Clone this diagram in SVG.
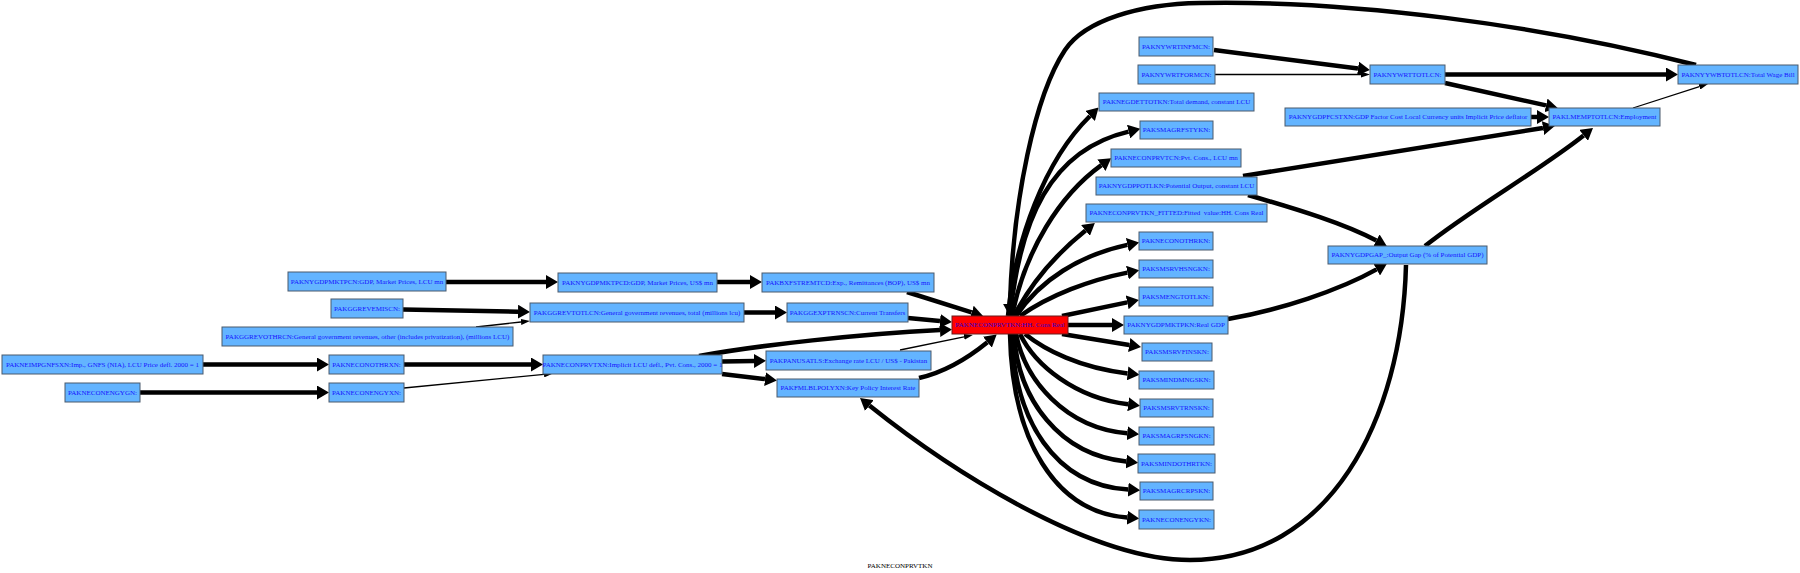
<svg xmlns="http://www.w3.org/2000/svg" width="1800" height="573" viewBox="0 0 1800 573">
<style>
.node rect{fill:#63b4ff;stroke:#4a5a6c;stroke-width:1}
.node text{font-family:"Liberation Serif","Times New Roman",serif;font-size:7px;fill:#1515ff;text-anchor:middle;white-space:pre}
.red rect{fill:#ff0000;stroke:#6a1a1a}
.red text{fill:#3300cc}
.e{fill:none;stroke:#000;stroke-width:4.5}
.e.thick{marker-end:url(#ah)}
.e.thin{stroke-width:1.3;marker-end:url(#as)}
.title{font-family:"Liberation Serif","Times New Roman",serif;font-size:7px;fill:#000;text-anchor:middle}
</style>
<defs>
<marker id="ah" markerUnits="userSpaceOnUse" viewBox="0 -7 12 14" refX="0" refY="0" markerWidth="12" markerHeight="14" orient="auto"><path d="M0,-7 L12,0 L0,7 z" fill="#000"/></marker>
<marker id="as" markerUnits="userSpaceOnUse" viewBox="0 -3 9 6" refX="0" refY="0" markerWidth="9" markerHeight="6" orient="auto"><path d="M0,-3 L9,0 L0,3 z" fill="#000"/></marker>
</defs>
<rect width="1800" height="573" fill="#fff"/>
<g id="edges">
<path class="e thick" d="M446,282 L546,282"/>
<path class="e thick" d="M403,309.5 L518,311.7"/>
<path class="e thin" d="M476,327 L521,322"/>
<path class="e thick" d="M203,364.5 L317,364.5"/>
<path class="e thick" d="M140,392.5 L317,392.5"/>
<path class="e thick" d="M404,364.5 L531,364.5"/>
<path class="e thin" d="M404,388 L544,374.4"/>
<path class="e thick" d="M717,282 L750,282"/>
<path class="e thick" d="M744,312.5 L775,312.5"/>
<path class="e thick" d="M907,292 L971.6,312.4"/>
<path class="e thick" d="M908,318 L940,321"/>
<path class="e thick" d="M699,356 C760,345 860,334 940,330"/>
<path class="e thick" d="M722,361.5 L754,361"/>
<path class="e thick" d="M722,374 L765,379.1"/>
<path class="e thin" d="M900,350 L964,336.8"/>
<path class="e thick" d="M919,378 C945,372 968,358 987.4,342.2"/>
<path class="e thick" d="M1406,265 C1402,420 1330,560 1190,560 C1090,560 950,470 869.4,405.5"/>
<path class="e thick" d="M1696,65 C1540,25 1350,0 1200,3 C1140,4 1085,20 1065,50 C1035,95 1013,200 1010,304"/>
<path class="e thick" d="M1243,176 L1543,128"/>
<path class="e thick" d="M1248,195 C1300,210 1345,224 1376.3,240.6"/>
<path class="e thick" d="M1228,319 C1280,310 1340,290 1376.6,269.4"/>
<path class="e thick" d="M1425,246 C1470,210 1540,170 1583.6,135.4"/>
<path class="e thick" d="M1214,50 L1358,68.5"/>
<path class="e thin" d="M1215,74.5 L1361,74.5"/>
<path class="e thick" d="M1445,74.5 L1666,74.5"/>
<path class="e thick" d="M1445,83 L1546,105.4"/>
<path class="e thick" d="M1531,117 L1537,117"/>
<path class="e thin" d="M1633,108 L1699.4,86.7"/>
<path class="e thick" d="M1008,316 C1015,240 1045,160 1090,116"/>
<path class="e thick" d="M1010,316 C1020,220 1050,150 1128.6,131.6"/>
<path class="e thick" d="M1012,316 C1025,250 1060,195 1101.4,165.2"/>
<path class="e thick" d="M1014,316 C1030,285 1055,255 1085.5,230.5"/>
<path class="e thick" d="M1016,316 C1040,280 1080,255 1127.4,244.9"/>
<path class="e thick" d="M1020,316 C1050,295 1090,280 1127.4,272.6"/>
<path class="e thick" d="M1062,316 L1127.2,302.4"/>
<path class="e thick" d="M1068,325 L1112,325"/>
<path class="e thick" d="M1062,334 L1129.2,345"/>
<path class="e thick" d="M1025,334 C1045,350 1080,368 1127.6,373.4"/>
<path class="e thick" d="M1020,334 C1035,365 1075,398 1128.1,404.3"/>
<path class="e thick" d="M1016,334 C1025,380 1065,428 1127.2,433.3"/>
<path class="e thick" d="M1014,334 C1018,400 1060,455 1126.2,461.5"/>
<path class="e thick" d="M1012,334 C1014,420 1055,485 1128.2,489.6"/>
<path class="e thick" d="M1010,334 C1012,440 1055,512 1127.2,517.6"/>
</g>
<g id="n_PAKNYGDPMKTPCN" class="node"><rect x="288" y="272" width="158" height="19"/><text x="367" y="283.9">PAKNYGDPMKTPCN:GDP, Market Prices, LCU mn</text></g>
<g id="n_PAKGGREVEMISCN" class="node"><rect x="331" y="299" width="72" height="19"/><text x="367" y="310.9">PAKGGREVEMISCN:</text></g>
<g id="n_PAKGGREVOTHRCN" class="node"><rect x="222" y="327" width="291" height="19"/><text x="367.5" y="338.9">PAKGGREVOTHRCN:General government revenues, other (includes privatization), (millions LCU)</text></g>
<g id="n_PAKNEIMPGNFSXN" class="node"><rect x="2" y="355" width="201" height="19"/><text x="102.5" y="366.9">PAKNEIMPGNFSXN:Imp., GNFS (NIA), LCU Price defl. 2000 = 1</text></g>
<g id="n_PAKNECONENGYGN" class="node"><rect x="65" y="383" width="75" height="19"/><text x="102.5" y="394.9">PAKNECONENGYGN:</text></g>
<g id="n_PAKNECONOTHRXN" class="node"><rect x="329" y="355" width="75" height="19"/><text x="366.5" y="366.9">PAKNECONOTHRXN:</text></g>
<g id="n_PAKNECONENGYXN" class="node"><rect x="329" y="383" width="75" height="19"/><text x="366.5" y="394.9">PAKNECONENGYXN:</text></g>
<g id="n_PAKNYGDPMKTPCD" class="node"><rect x="558" y="273" width="159" height="19"/><text x="637.5" y="284.9">PAKNYGDPMKTPCD:GDP, Market Prices, US$ mn</text></g>
<g id="n_PAKGGREVTOTLCN" class="node"><rect x="530" y="303" width="214" height="19"/><text x="637" y="314.9">PAKGGREVTOTLCN:General government revenues, total (millions lcu)</text></g>
<g id="n_PAKNECONPRVTXN" class="node"><rect x="543" y="355" width="179" height="19"/><text x="632.5" y="366.9">PAKNECONPRVTXN:Implicit LCU defl., Pvt. Cons., 2000 = 1</text></g>
<g id="n_PAKBXFSTREMTCD" class="node"><rect x="762" y="273" width="172" height="19"/><text x="848" y="284.9">PAKBXFSTREMTCD:Exp., Remittances (BOP), US$ mn</text></g>
<g id="n_PAKGGEXPTRNSCN" class="node"><rect x="787" y="303" width="121" height="19"/><text x="847.5" y="314.9">PAKGGEXPTRNSCN:Current Transfers</text></g>
<g id="n_PAKPANUSATLS" class="node"><rect x="766" y="351" width="165" height="19"/><text x="848.5" y="362.9">PAKPANUSATLS:Exchange rate LCU / US$ - Pakistan</text></g>
<g id="n_PAKFMLBLPOLYXN" class="node"><rect x="777" y="379" width="142" height="18"/><text x="848" y="390.4">PAKFMLBLPOLYXN:Key Policy Interest Rate</text></g>
<g id="n_PAKNECONPRVTKN" class="node red"><rect x="952" y="316" width="116" height="18"/><text x="1010" y="327.4">PAKNECONPRVTKN:HH. Cons Real</text></g>
<g id="n_PAKNEGDETTOTKN" class="node"><rect x="1099" y="93" width="155" height="18"/><text x="1176.5" y="104.4">PAKNEGDETTOTKN:Total demand, constant LCU</text></g>
<g id="n_PAKSMAGRFSTYKN" class="node"><rect x="1140" y="121" width="73" height="18"/><text x="1176.5" y="132.4">PAKSMAGRFSTYKN:</text></g>
<g id="n_PAKNECONPRVTCN" class="node"><rect x="1111" y="149" width="130" height="18"/><text x="1176" y="160.4">PAKNECONPRVTCN:Pvt. Cons., LCU mn</text></g>
<g id="n_PAKNYGDPPOTLKN" class="node"><rect x="1096" y="177" width="161" height="18"/><text x="1176.5" y="188.4">PAKNYGDPPOTLKN:Potential Output, constant LCU</text></g>
<g id="n_PAKNECONPRVTKN_FITTED" class="node"><rect x="1086" y="204" width="181" height="18"/><text x="1176.5" y="215.4">PAKNECONPRVTKN_FITTED:Fitted  value:HH. Cons Real</text></g>
<g id="n_PAKNECONOTHRKN" class="node"><rect x="1139" y="232" width="74" height="18"/><text x="1176" y="243.4">PAKNECONOTHRKN:</text></g>
<g id="n_PAKSMSRVHSNGKN" class="node"><rect x="1139" y="260" width="74" height="18"/><text x="1176" y="271.4">PAKSMSRVHSNGKN:</text></g>
<g id="n_PAKSMENGTOTLKN" class="node"><rect x="1139" y="287" width="74" height="19"/><text x="1176" y="298.9">PAKSMENGTOTLKN:</text></g>
<g id="n_PAKNYGDPMKTPKN" class="node"><rect x="1124" y="316" width="104" height="18"/><text x="1176" y="327.4">PAKNYGDPMKTPKN:Real GDP</text></g>
<g id="n_PAKSMSRVFINSKN" class="node"><rect x="1142" y="343" width="70" height="18"/><text x="1177" y="354.4">PAKSMSRVFINSKN:</text></g>
<g id="n_PAKSMINDMNGSKN" class="node"><rect x="1139" y="371" width="75" height="18"/><text x="1176.5" y="382.4">PAKSMINDMNGSKN:</text></g>
<g id="n_PAKSMSRVTRNSKN" class="node"><rect x="1140" y="399" width="73" height="18"/><text x="1176.5" y="410.4">PAKSMSRVTRNSKN:</text></g>
<g id="n_PAKSMAGRFSNGKN" class="node"><rect x="1139" y="427" width="75" height="18"/><text x="1176.5" y="438.4">PAKSMAGRFSNGKN:</text></g>
<g id="n_PAKSMINDOTHRTKN" class="node"><rect x="1138" y="454" width="77" height="19"/><text x="1176.5" y="465.9">PAKSMINDOTHRTKN:</text></g>
<g id="n_PAKSMAGRCRPSKN" class="node"><rect x="1140" y="482" width="73" height="18"/><text x="1176.5" y="493.4">PAKSMAGRCRPSKN:</text></g>
<g id="n_PAKNECONENGYKN" class="node"><rect x="1139" y="510" width="75" height="19"/><text x="1176.5" y="521.9">PAKNECONENGYKN:</text></g>
<g id="n_PAKNYWRTINFMCN" class="node"><rect x="1139" y="37" width="74" height="19"/><text x="1176" y="48.9">PAKNYWRTINFMCN:</text></g>
<g id="n_PAKNYWRTFORMCN" class="node"><rect x="1138" y="65" width="77" height="19"/><text x="1176.5" y="76.9">PAKNYWRTFORMCN:</text></g>
<g id="n_PAKNYWRTTOTLCN" class="node"><rect x="1370" y="65" width="75" height="19"/><text x="1407.5" y="76.9">PAKNYWRTTOTLCN:</text></g>
<g id="n_PAKNYYWBTOTLCN" class="node"><rect x="1678" y="65" width="120" height="19"/><text x="1738" y="76.9">PAKNYYWBTOTLCN:Total Wage Bill</text></g>
<g id="n_PAKNYGDPFCSTXN" class="node"><rect x="1285" y="108" width="246" height="18"/><text x="1408" y="119.4">PAKNYGDPFCSTXN:GDP Factor Cost Local Currency units Implicit Price deflator</text></g>
<g id="n_PAKLMEMPTOTLCN" class="node"><rect x="1549" y="108" width="111" height="18"/><text x="1604.5" y="119.4">PAKLMEMPTOTLCN:Employment</text></g>
<g id="n_PAKNYGDPGAP_" class="node"><rect x="1328" y="246" width="159" height="18"/><text x="1407.5" y="257.4">PAKNYGDPGAP_:Output Gap (% of Potential GDP)</text></g>
<text class="title" x="900" y="567.5">PAKNECONPRVTKN</text>
</svg>
